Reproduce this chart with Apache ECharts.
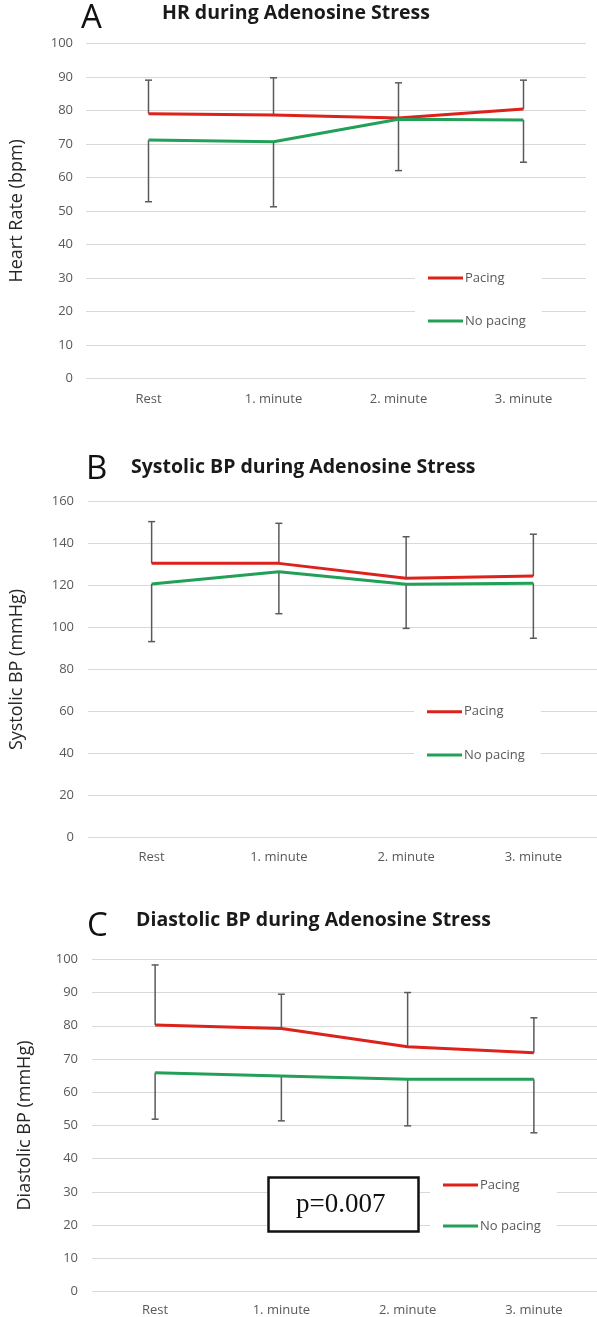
<!DOCTYPE html>
<html>
<head>
<meta charset="utf-8">
<script src="https://cdn.jsdelivr.net/npm/echarts@6/dist/echarts.min.js"></script>
<style>
html,body{margin:0;padding:0;background:#fff;}
#chart{width:597px;height:1317px;}
</style>
</head>
<body>
<div id="chart"></div>
<script>
// ---- data ----
const categories = ['Rest', '1. minute', '2. minute', '3. minute'];
const seriesNames = ['Pacing', 'No pacing'];

// A: Heart rate (bpm)
const hrPacing = [79.0, 78.6, 77.7, 80.4];
const hrPacingUpper = [89.0, 89.7, 88.2, 89.0];
const hrNoPacing = [71.1, 70.6, 77.3, 77.1];
const hrNoPacingLower = [52.7, 51.2, 62.0, 64.5];

// B: Systolic BP (mmHg)
const sysPacing = [130.6, 130.6, 123.5, 124.6];
const sysPacingUpper = [150.5, 149.7, 143.3, 144.5];
const sysNoPacing = [120.8, 126.6, 120.6, 121.1];
const sysNoPacingLower = [93.3, 106.6, 99.6, 94.9];

// C: Diastolic BP (mmHg)
const diaPacing = [80.2, 79.2, 73.7, 71.9];
const diaPacingUpper = [98.3, 89.5, 90.0, 82.4];
const diaNoPacing = [65.9, 64.9, 63.9, 63.9];
const diaNoPacingLower = [51.9, 51.4, 49.9, 47.8];

const pValueText = 'p=0.007';

// ---- styles ----
const RED = '#dc221b';
const GREEN = '#22a058';
const GRID = '#d9d9d9';
const LABEL = '#595959';
const FONT = 'Open Sans';

const chart = echarts.init(document.getElementById('chart'));

function errorBarSeries(grid, means, bounds) {
  return {
    type: 'custom',
    xAxisIndex: grid, yAxisIndex: grid,
    z: 1,
    silent: true,
    data: categories.map((c, i) => [i, means[i], bounds[i]]),
    renderItem: function (params, api) {
      const p1 = api.coord([api.value(0), api.value(1)]);
      const p2 = api.coord([api.value(0), api.value(2)]);
      const st = { stroke: '#5a5a5a', lineWidth: 1.5 };
      return {
        type: 'group',
        children: [
          { type: 'line', shape: { x1: p1[0], y1: p1[1], x2: p2[0], y2: p2[1] }, style: st },
          { type: 'line', shape: { x1: p2[0] - 3.5, y1: p2[1], x2: p2[0] + 3.5, y2: p2[1] }, style: st }
        ]
      };
    }
  };
}

function lineSeries(grid, name, data, color) {
  return {
    type: 'line', name: name,
    xAxisIndex: grid, yAxisIndex: grid,
    data: data, z: 3,
    symbol: 'none',
    lineStyle: { color: color, width: 3 },
    itemStyle: { color: color }
  };
}

const grids = [
  { left: 73, width: 513, top: 43.3, height: 335 },
  { left: 84, width: 516, top: 501.7, height: 335.6 },
  { left: 92, width: 512, top: 959.3, height: 332.4 }
];
const yConf = [
  { max: 100, interval: 10, name: 'Heart Rate (bpm)', nameGap: 60, margin: 13 },
  { max: 160, interval: 20, name: 'Systolic BP (mmHg)', nameGap: 62, margin: 14 },
  { max: 100, interval: 10, name: 'Diastolic BP (mmHg)', nameGap: 58, margin: 14 }
];
const xMargins = [14, 13, 12];

const legendPos = [
  { left: 415, top: 263.5, gap: 30 },
  { left: 414, top: 697.2, gap: 30.3 },
  { left: 430, top: 1170.5, gap: 28 }
];

const letterStyle = { fontSize: 33, fontWeight: 'normal', color: '#111', fontFamily: FONT };
const headStyle = { fontSize: 19.5, fontWeight: 'bold', color: '#1a1a1a', fontFamily: FONT };

const option = {
  animation: false,
  backgroundColor: '#fff',
  textStyle: { fontFamily: FONT },
  title: [
    { text: 'A', left: 81, top: 2, padding: 0, textStyle: letterStyle },
    { text: 'HR during Adenosine Stress', left: 162, top: 3.5, padding: 0, textStyle: headStyle },
    { text: 'B', left: 86, top: 453, padding: 0, textStyle: letterStyle },
    { text: 'Systolic BP during Adenosine Stress', left: 131, top: 457.5, padding: 0, textStyle: headStyle },
    { text: 'C', left: 87, top: 910, padding: 0, textStyle: letterStyle },
    { text: 'Diastolic BP during Adenosine Stress', left: 136, top: 910.5, padding: 0, textStyle: headStyle },
    { text: pValueText, left: 268, top: 1177, padding: [14, 33, 14, 28], borderWidth: 2.5, borderColor: '#111', backgroundColor: '#fff',
      textStyle: { fontSize: 27, fontWeight: 'normal', color: '#111', fontFamily: 'Liberation Serif' } }
  ],
  legend: legendPos.map((p) => ({
    data: seriesNames,
    orient: 'vertical',
    left: p.left, top: p.top,
    icon: 'rect',
    itemWidth: 35, itemHeight: 3,
    itemGap: p.gap,
    padding: [8, 16, 8, 13],
    backgroundColor: '#fff',
    textStyle: { color: LABEL, fontSize: 13, fontFamily: FONT, padding: [0, 0, 0, -3] },
    selectedMode: false
  })),
  grid: grids,
  xAxis: grids.map((g, i) => ({
    type: 'category', gridIndex: i, data: categories, boundaryGap: true,
    axisLine: { show: false }, axisTick: { show: false },
    axisLabel: { color: LABEL, fontSize: 13, margin: xMargins[i], fontFamily: FONT }
  })),
  yAxis: yConf.map((y, i) => ({
    type: 'value', gridIndex: i, min: 0, max: y.max, interval: y.interval,
    name: y.name, nameLocation: 'middle', nameRotate: 90, nameGap: y.nameGap,
    nameTextStyle: { color: '#262626', fontSize: 18, fontFamily: FONT },
    axisLine: { show: false }, axisTick: { show: false },
    axisLabel: { color: LABEL, fontSize: 13, margin: y.margin, fontFamily: FONT },
    splitLine: { lineStyle: { color: GRID, width: 1.2 } }
  })),
  series: [
    errorBarSeries(0, hrPacing, hrPacingUpper),
    errorBarSeries(0, hrNoPacing, hrNoPacingLower),
    lineSeries(0, 'Pacing', hrPacing, RED),
    lineSeries(0, 'No pacing', hrNoPacing, GREEN),
    errorBarSeries(1, sysPacing, sysPacingUpper),
    errorBarSeries(1, sysNoPacing, sysNoPacingLower),
    lineSeries(1, 'Pacing', sysPacing, RED),
    lineSeries(1, 'No pacing', sysNoPacing, GREEN),
    errorBarSeries(2, diaPacing, diaPacingUpper),
    errorBarSeries(2, diaNoPacing, diaNoPacingLower),
    lineSeries(2, 'Pacing', diaPacing, RED),
    lineSeries(2, 'No pacing', diaNoPacing, GREEN)
  ]
};
chart.setOption(option);
</script>
</body>
</html>
